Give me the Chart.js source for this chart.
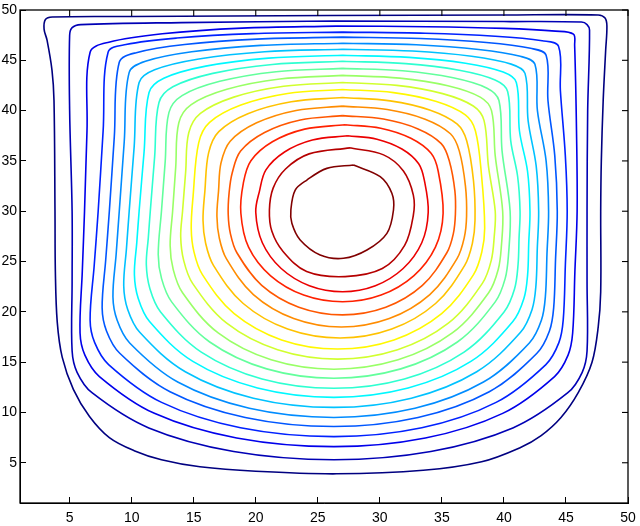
<!DOCTYPE html>
<html><head><meta charset="utf-8">
<script src="https://cdn.jsdelivr.net/npm/chart.js@4.4.1/dist/chart.umd.min.js"></script>
<style>html,body{margin:0;padding:0;background:#fff;}canvas{display:block;}</style>
</head><body>
<canvas id="c" width="640" height="526"></canvas>
<script>
const xTicks = [5, 10, 15, 20, 25, 30, 35, 40, 45, 50];
const yTicks = [5, 10, 15, 20, 25, 30, 35, 40, 45, 50];
const levelColors = ['#000080','#0000B5','#0000EB','#0021FF','#0057FF','#008CFF','#00C2FF','#00F8FF','#2EFFD1','#63FF9C',
                     '#99FF66','#D1FF2E','#FFF800','#FFC200','#FF8C00','#FF5700','#FF2100','#EB0000','#B50000','#800000'];

const c00 = [[26.0,49.45],[40.0,49.5],[47.6,49.5],[48.15,49.2],[48.3,48.4],[48.2,46.0],[48.0,41.0],[47.85,35.0],[47.8,30.0],[47.8,22.0],[47.6,18.5],[47.1,15.0],[46.0,12.0],[44.6,9.5],[43.0,7.7],[41.3,6.5],[38.2,5.1],[33.5,4.25],[26.5,3.9],[20.0,4.15],[15.5,4.6],[12.4,5.3],[10.2,6.2],[8.2,7.5],[6.6,9.6],[5.3,12.3],[4.4,15.5],[4.0,19.0],[3.85,24.0],[3.82,30.0],[3.74,41.0],[3.58,44.0],[3.18,47.0],[2.94,48.1],[3.05,49.05],[3.6,49.3],[10.0,49.35],[26.0,49.45]];
const c01 = [[26.3,48.9],[40.0,48.85],[46.25,48.8],[46.7,48.55],[46.9,48.0],[46.75,40.0],[46.7,30.0],[46.7,23.0],[46.7,16.1],[46.31,13.99],[45.15,11.96],[40.72,8.46],[34.11,6.12],[26.3,5.3],[18.22,6.12],[11.38,8.46],[6.8,11.96],[5.6,13.99],[5.2,16.1],[5.2,23.0],[5.2,30.0],[5.0,40.0],[5.0,47.5],[5.2,48.25],[5.9,48.55],[14.0,48.75],[26.3,48.9]];
const c02 = [[26.5,48.4],[33.8,48.34],[40.0,48.17],[44.15,47.9],[45.6,47.6],[45.7,46.5],[45.85,38.0],[45.9,30.0],[45.72,24.0],[45.54,17.9],[45.17,15.7],[44.08,13.57],[39.9,9.91],[33.67,7.46],[26.3,6.6],[18.46,7.46],[11.83,9.91],[7.4,13.57],[6.23,15.7],[5.84,17.9],[6.02,24.0],[6.2,30.0],[6.4,38.0],[6.65,45.8],[8.16,46.8],[12.47,47.64],[18.9,48.2],[26.5,48.4]];
const c03 = [[27.0,47.8],[33.66,47.69],[39.3,47.39],[43.08,46.94],[44.4,46.4],[44.55,42.0],[44.95,35.5],[45.1,30.0],[44.95,24.6],[44.78,19.2],[44.43,16.94],[43.38,14.76],[39.37,11.0],[33.38,8.48],[26.3,7.6],[18.77,8.48],[12.41,11.0],[8.14,14.76],[7.02,16.94],[6.65,19.2],[6.98,24.6],[7.3,30.0],[7.7,38.0],[8.1,45.8],[9.54,46.57],[13.64,47.21],[19.76,47.65],[27.0,47.8]];
const c04 = [[27.0,47.3],[33.28,47.16],[38.59,46.77],[42.15,46.19],[43.4,45.5],[43.55,41.0],[44.1,35.5],[44.3,30.0],[44.16,25.2],[44.01,20.4],[43.67,18.1],[42.66,15.88],[38.82,12.06],[33.08,9.5],[26.3,8.6],[19.15,9.5],[13.09,12.06],[9.04,15.88],[7.97,18.1],[7.62,20.4],[7.91,25.2],[8.2,30.0],[8.6,37.4],[9.0,44.8],[10.37,45.76],[14.27,46.57],[20.11,47.11],[27.0,47.3]];
const c05 = [[27.0,46.7],[32.94,46.54],[37.96,46.08],[41.32,45.4],[42.5,44.6],[42.7,40.0],[43.4,35.0],[43.6,30.0],[43.47,25.75],[43.34,21.5],[43.02,19.16],[42.05,16.9],[38.35,13.02],[32.83,10.41],[26.3,9.5],[19.48,10.41],[13.71,13.02],[9.84,16.9],[8.83,19.16],[8.49,21.5],[8.75,25.75],[9.0,30.0],[9.4,36.9],[9.8,43.8],[11.11,44.91],[14.84,45.85],[20.41,46.48],[27.0,46.7]];
const c06 = [[27.0,46.1],[32.63,45.92],[37.39,45.4],[40.58,44.62],[41.7,43.7],[41.95,39.0],[42.6,34.5],[42.8,30.0],[42.69,26.3],[42.58,22.6],[42.27,20.24],[41.34,17.97],[37.81,14.05],[32.54,11.42],[26.3,10.5],[19.81,11.42],[14.32,14.05],[10.65,17.97],[9.68,20.24],[9.36,22.6],[9.58,26.3],[9.8,30.0],[10.2,36.4],[10.6,42.8],[11.85,44.06],[15.41,45.13],[20.72,45.85],[27.0,46.1]];
const c07 = [[27.0,45.5],[32.36,45.29],[36.9,44.71],[39.94,43.83],[41.0,42.8],[41.25,38.0],[41.9,34.0],[42.1,30.0],[42.0,26.85],[41.91,23.7],[41.61,21.32],[40.72,19.03],[37.34,15.07],[32.28,12.43],[26.3,11.5],[20.14,12.43],[14.93,15.07],[11.44,19.03],[10.53,21.32],[10.22,23.7],[10.41,26.85],[10.6,30.0],[11.0,35.9],[11.4,41.8],[12.59,43.22],[15.97,44.42],[21.03,45.22],[27.0,45.5]];
const c08 = [[27.0,44.9],[32.09,44.67],[36.4,44.02],[39.29,43.05],[40.3,41.9],[40.55,37.0],[41.1,33.5],[41.3,30.0],[41.22,27.35],[41.14,24.7],[40.86,22.3],[40.01,19.99],[36.79,16.0],[31.98,13.33],[26.3,12.4],[20.51,13.33],[15.61,16.0],[12.33,19.99],[11.47,22.3],[11.18,24.7],[11.34,27.35],[11.5,30.0],[11.85,35.4],[12.2,40.8],[13.32,42.37],[16.54,43.7],[21.33,44.59],[27.0,44.9]];
const c09 = [[27.0,44.2],[31.83,43.96],[35.91,43.26],[38.64,42.23],[39.6,41.0],[39.85,36.0],[40.5,30.0],[40.37,25.7],[40.1,23.3],[39.3,20.99],[36.25,17.0],[31.69,14.33],[26.3,13.4],[20.88,14.33],[16.29,17.0],[13.22,20.99],[12.41,23.3],[12.14,25.7],[12.4,30.0],[12.7,34.9],[13.0,39.8],[14.06,41.49],[17.1,42.91],[21.64,43.87],[27.0,44.2]];
const c10 = [[27.0,43.5],[31.6,43.23],[35.48,42.47],[38.09,41.34],[39.0,40.0],[39.3,35.5],[39.9,30.0],[39.8,26.6],[39.54,24.2],[38.77,21.89],[35.84,17.9],[31.47,15.23],[26.3,14.3],[21.24,15.23],[16.97,17.9],[14.1,21.89],[13.35,24.2],[13.1,26.6],[13.3,30.0],[13.55,34.4],[13.8,38.8],[14.8,40.6],[17.67,42.12],[21.94,43.14],[27.0,43.5]];
const c11 = [[27.0,42.8],[31.37,42.51],[35.06,41.69],[37.53,40.46],[38.4,39.0],[38.75,34.5],[39.3,30.0],[39.22,27.5],[38.98,25.12],[38.26,22.83],[35.52,18.87],[31.43,16.23],[26.6,15.3],[21.76,16.23],[17.66,18.87],[14.91,22.83],[14.19,25.12],[13.95,27.5],[14.1,30.0],[14.35,33.9],[14.6,37.8],[15.54,39.72],[18.23,41.34],[22.25,42.42],[27.0,42.8]];
const c12 = [[27.0,42.1],[31.1,41.79],[34.56,40.9],[36.89,39.57],[37.7,38.0],[38.2,33.5],[38.45,28.3],[38.22,25.96],[37.55,23.7],[34.98,19.82],[31.14,17.21],[26.6,16.3],[22.08,17.21],[18.26,19.82],[15.7,23.7],[15.02,25.96],[14.8,28.3],[14.95,31.5],[15.4,36.8],[16.28,38.83],[18.8,40.55],[22.56,41.7],[27.0,42.1]];
const c13 = [[27.0,41.3],[30.83,40.97],[34.07,40.04],[36.24,38.65],[37.0,37.0],[37.55,33.0],[37.67,29.1],[37.46,26.82],[36.84,24.62],[34.49,20.83],[30.96,18.29],[26.8,17.4],[22.57,18.29],[18.99,20.83],[16.59,24.62],[15.96,26.82],[15.75,29.1],[15.9,32.0],[16.2,35.8],[17.02,37.91],[19.36,39.69],[22.86,40.88],[27.0,41.3]];
const c14 = [[27.0,40.45],[30.6,40.11],[33.65,39.15],[35.69,37.7],[36.4,36.0],[36.9,32.5],[36.99,29.5],[36.8,27.35],[36.22,25.29],[34.03,21.72],[30.76,19.34],[26.9,18.5],[23.06,19.34],[19.81,21.72],[17.63,25.29],[17.06,27.35],[16.87,29.5],[17.0,32.0],[17.2,34.8],[17.94,36.96],[20.07,38.79],[23.25,40.02],[27.0,40.45]];
const c15 = [[27.0,39.5],[30.29,39.16],[33.08,38.18],[34.95,36.72],[35.6,35.0],[36.05,32.0],[36.09,29.7],[35.92,27.75],[35.4,25.87],[33.43,22.63],[30.48,20.46],[27.0,19.7],[23.47,20.46],[20.48,22.63],[18.48,25.87],[17.96,27.75],[17.78,29.7],[17.85,31.8],[18.1,33.8],[18.78,35.98],[20.71,37.83],[23.59,39.07],[27.0,39.5]];
const c16 = [[27.2,38.6],[30.07,38.25],[32.5,37.25],[34.13,35.76],[34.7,34.0],[35.1,29.8],[34.48,26.43],[32.73,23.58],[30.1,21.67],[27.0,21.0],[23.86,21.67],[21.2,23.58],[19.42,26.43],[18.8,29.8],[19.0,32.8],[19.61,35.02],[21.34,36.9],[23.94,38.16],[27.2,38.6]];
const c17 = [[27.4,37.5],[29.77,37.16],[31.78,36.18],[33.13,34.72],[33.6,33.0],[33.9,29.9],[33.38,26.87],[31.88,24.31],[29.64,22.6],[27.0,22.0],[24.32,22.6],[22.05,24.31],[20.53,26.87],[20.0,29.9],[20.3,32.0],[20.82,34.11],[22.32,35.89],[24.56,37.08],[27.4,37.5]];
const c18 = [[27.6,36.3],[30.3,35.6],[31.9,34.0],[32.7,31.6],[32.7,29.6],[32.0,26.6],[30.2,24.3],[27.2,23.5],[24.1,24.0],[22.2,26.0],[21.3,28.0],[21.1,30.1],[21.4,32.3],[22.4,34.2],[24.3,35.7],[27.6,36.3]];
const c19 = [[27.88,34.59],[30.03,33.43],[30.97,31.78],[31.1,30.12],[30.57,27.8],[28.96,26.14],[27.07,25.32],[25.19,25.65],[23.58,27.14],[22.91,28.8],[22.83,30.12],[23.18,32.1],[24.12,33.1],[25.73,34.26],[27.88,34.59]];

const contours = [c00,c01,c02,c03,c04,c05,c06,c07,c08,c09,c10,c11,c12,c13,c14,c15,c16,c17,c18,c19];

// top and right frame edges plus their inward ticks (bottom/left come from the axes)
const frameTicks = {
  id: 'frameTicks',
  afterDraw(chart) {
    const ctx = chart.ctx, a = chart.chartArea;
    const xs = chart.scales.x, ys = chart.scales.y;
    ctx.save();
    ctx.strokeStyle = 'rgb(0,0,0)';
    ctx.lineWidth = 1.3;
    ctx.strokeRect(a.left, a.top, a.right - a.left, a.bottom - a.top);
    ctx.lineWidth = 1.1;
    for (let i = 0; i < xTicks.length; i++) {
      const p = xs.getPixelForValue(xTicks[i]);
      ctx.beginPath(); ctx.moveTo(p, a.top); ctx.lineTo(p, a.top + 6); ctx.stroke();
    }
    for (let i = 0; i < yTicks.length; i++) {
      const p = ys.getPixelForValue(yTicks[i]);
      ctx.beginPath(); ctx.moveTo(a.right, p); ctx.lineTo(a.right - 6, p); ctx.stroke();
    }
    ctx.restore();
  }
};

Chart.defaults.font.family = "'Liberation Sans', Arial, Helvetica, sans-serif";
Chart.defaults.font.size = 14;
Chart.defaults.color = '#000';

new Chart(document.getElementById('c'), {
  type: 'line',
  data: {
    datasets: contours.map((pts, i) => ({
      data: pts.map(p => ({x: p[0], y: p[1]})),
      borderColor: levelColors[i],
      borderWidth: 1.6,
      pointRadius: 0,
      fill: false,
      tension: 0.35
    }))
  },
  options: {
    responsive: false,
    animation: false,
    devicePixelRatio: 1,
    layout: { padding: { top: 10, right: 12, left: 0, bottom: 0 } },
    plugins: { legend: { display: false }, tooltip: { enabled: false } },
    scales: {
      x: {
        type: 'linear', min: 1, max: 50,
        grid: { display: true, drawOnChartArea: false, drawTicks: true, tickLength: -6, color: '#000', lineWidth: 1 },
        border: { display: true, color: '#000', width: 1 },
        ticks: { padding: 13, maxRotation: 0 },
        afterBuildTicks: s => { s.ticks = xTicks.map(v => ({value: v})); },
        afterFit: s => { s.height = 23; s.paddingLeft = 0; s.paddingRight = 0; s.paddingTop = 0; s.paddingBottom = 0; }
      },
      y: {
        type: 'linear', min: 1, max: 50,
        grid: { display: true, drawOnChartArea: false, drawTicks: true, tickLength: -6, color: '#000', lineWidth: 1 },
        border: { display: true, color: '#000', width: 1 },
        ticks: { padding: 9 },
        afterBuildTicks: s => { s.ticks = yTicks.map(v => ({value: v})); },
        afterFit: s => { s.width = 20; s.paddingTop = 0; s.paddingBottom = 0; s.paddingLeft = 0; s.paddingRight = 0; }
      }
    }
  },
  plugins: [frameTicks]
});
</script>
</body></html>
